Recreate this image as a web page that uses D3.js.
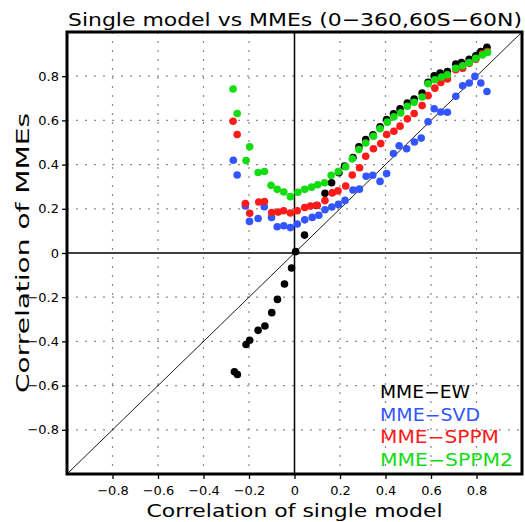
<!DOCTYPE html>
<html>
<head>
<meta charset="utf-8">
<script src="https://cdn.jsdelivr.net/npm/d3@7"></script>
<style>
  html, body { margin: 0; padding: 0; background: #fff; }
  svg text { font-family: 'DejaVu Sans', sans-serif; }
</style>
</head>
<body>
<div id="vis"></div>
<script>
var titleText = 'Single model vs MMEs (0\u2212360,60S\u221260N)',
    labelX = 'Correlation of single model',
    labelY = 'Correlation of MMEs';

var tickValues = [-0.8, -0.6, -0.4, -0.2, 0, 0.2, 0.4, 0.6, 0.8];

var seriesNames = ['MME\u2212EW', 'MME\u2212SVD', 'MME\u2212SPPM', 'MME\u2212SPPM2'];

/* [single model correlation, MME correlation] */
var ewPoints = [
  [-0.264, -0.537], [-0.251, -0.55], [-0.213, -0.414], [-0.197, -0.395],
  [-0.16, -0.35], [-0.13, -0.33], [-0.10, -0.27], [-0.075, -0.21],
  [-0.044, -0.14], [-0.013, -0.068], [0.005, 0.006], [0.044, 0.081],
  [0.097, 0.215], [0.134, 0.27], [0.163, 0.318], [0.195, 0.363],
  [0.22, 0.393], [0.257, 0.432], [0.283, 0.48], [0.313, 0.513],
  [0.345, 0.535], [0.376, 0.571], [0.405, 0.604], [0.435, 0.63],
  [0.464, 0.652], [0.496, 0.679], [0.526, 0.697], [0.561, 0.724],
  [0.587, 0.772], [0.614, 0.802], [0.64, 0.814], [0.672, 0.821],
  [0.709, 0.855], [0.734, 0.862], [0.768, 0.877], [0.797, 0.892],
  [0.819, 0.911], [0.846, 0.931]
];

var svdPoints = [
  [-0.269, 0.42], [-0.252, 0.353], [-0.216, 0.213], [-0.198, 0.143],
  [-0.16, 0.156], [-0.133, 0.209], [-0.101, 0.161], [-0.076, 0.119],
  [-0.047, 0.123], [-0.018, 0.115], [0.012, 0.131], [0.045, 0.15],
  [0.078, 0.161], [0.107, 0.171], [0.134, 0.196], [0.164, 0.208],
  [0.193, 0.22], [0.222, 0.238], [0.257, 0.285], [0.285, 0.289],
  [0.315, 0.347], [0.344, 0.352], [0.376, 0.324], [0.405, 0.36],
  [0.435, 0.45], [0.46, 0.485], [0.493, 0.472], [0.527, 0.502],
  [0.557, 0.52], [0.587, 0.594], [0.614, 0.653], [0.643, 0.638],
  [0.672, 0.637], [0.709, 0.709], [0.739, 0.757], [0.768, 0.769],
  [0.793, 0.799], [0.819, 0.769], [0.846, 0.731]
];

var sppmPoints = [
  [-0.27, 0.596], [-0.252, 0.536], [-0.216, 0.224], [-0.197, 0.18],
  [-0.157, 0.231], [-0.132, 0.233], [-0.1, 0.183], [-0.072, 0.185],
  [-0.048, 0.191], [-0.018, 0.181], [0.012, 0.191], [0.045, 0.206],
  [0.07, 0.213], [0.1, 0.216], [0.134, 0.237], [0.166, 0.272],
  [0.191, 0.281], [0.225, 0.303], [0.254, 0.353], [0.286, 0.386],
  [0.313, 0.438], [0.347, 0.472], [0.379, 0.495], [0.405, 0.536],
  [0.437, 0.551], [0.464, 0.574], [0.496, 0.607], [0.526, 0.631],
  [0.561, 0.667], [0.587, 0.712], [0.617, 0.746], [0.643, 0.772],
  [0.672, 0.787], [0.709, 0.829], [0.739, 0.836], [0.768, 0.859],
  [0.797, 0.877], [0.826, 0.901], [0.848, 0.911]
];

var sppm2Points = [
  [-0.27, 0.742], [-0.252, 0.631], [-0.197, 0.481], [-0.213, 0.418],
  [-0.16, 0.364], [-0.132, 0.369], [-0.103, 0.306], [-0.076, 0.288],
  [-0.047, 0.276], [-0.018, 0.255], [0.015, 0.275], [0.045, 0.288],
  [0.075, 0.298], [0.102, 0.309], [0.132, 0.318], [0.161, 0.352],
  [0.192, 0.368], [0.225, 0.39], [0.254, 0.426], [0.283, 0.468],
  [0.313, 0.498], [0.347, 0.528], [0.376, 0.562], [0.408, 0.592],
  [0.437, 0.616], [0.467, 0.634], [0.496, 0.664], [0.526, 0.682],
  [0.561, 0.706], [0.587, 0.766], [0.617, 0.784], [0.646, 0.796],
  [0.672, 0.806], [0.709, 0.836], [0.739, 0.847], [0.768, 0.862],
  [0.797, 0.881], [0.826, 0.896], [0.848, 0.907]
];

var prefs = {
  width: 525,
  height: 522,
  margins: { top: 32, bottom: 48, left: 67, right: 3 },
  colors: ['#000000', '#3355ff', '#ff1a1a', '#11dd11'],
  dotRadius: 3.8,
  gridColor: '#8a8a8a'
};

var series = [ewPoints, svdPoints, sppmPoints, sppm2Points];

var svg = d3.select('#vis').append('svg')
  .attr('width', prefs.width)
  .attr('height', prefs.height);

var x = d3.scaleLinear()
  .domain([-1, 1])
  .range([prefs.margins.left, prefs.width - prefs.margins.right]);

var y = d3.scaleLinear()
  .domain([-1, 1])
  .range([prefs.height - prefs.margins.bottom, prefs.margins.top]);

function tickLabel(d) {
  if (d === 0) return '0';
  return (d < 0 ? '\u2212' : '') + Math.abs(d).toFixed(1);
}

/* Dotted grid lines, skipping zero which gets a solid line */
var gridValues = tickValues.filter(function(d) { return d !== 0; });

svg.append('g').selectAll('line.vgrid')
  .data(gridValues)
  .enter().append('line')
    .attr('x1', function(d) { return x(d); })
    .attr('x2', function(d) { return x(d); })
    .attr('y1', y(1))
    .attr('y2', y(-1))
    .attr('stroke', prefs.gridColor)
    .attr('stroke-width', 1.2)
    .attr('stroke-dasharray', '2,7');

svg.append('g').selectAll('line.hgrid')
  .data(gridValues)
  .enter().append('line')
    .attr('y1', function(d) { return y(d); })
    .attr('y2', function(d) { return y(d); })
    .attr('x1', x(-1))
    .attr('x2', x(1))
    .attr('stroke', prefs.gridColor)
    .attr('stroke-width', 1.2)
    .attr('stroke-dasharray', '2,7');

/* Zero lines and 1:1 diagonal */
svg.append('line')
  .attr('x1', x(0)).attr('x2', x(0))
  .attr('y1', y(1)).attr('y2', y(-1))
  .attr('stroke', '#000').attr('stroke-width', 1.5);

svg.append('line')
  .attr('x1', x(-1)).attr('x2', x(1))
  .attr('y1', y(0)).attr('y2', y(0))
  .attr('stroke', '#000').attr('stroke-width', 1.5);

svg.append('line')
  .attr('x1', x(-1)).attr('y1', y(-1))
  .attr('x2', x(1)).attr('y2', y(1))
  .attr('stroke', '#000').attr('stroke-width', 0.9);

/* Axes: outward ticks, no domain path (frame drawn separately) */
var xAxis = d3.axisBottom(x)
  .tickValues(tickValues)
  .tickSize(5)
  .tickFormat(tickLabel);

var yAxis = d3.axisLeft(y)
  .tickValues(tickValues)
  .tickSize(5)
  .tickFormat(tickLabel);

svg.append('g')
  .attr('transform', 'translate(0,' + y(-1) + ')')
  .call(xAxis)
  .call(function(g) { g.select('.domain').remove(); })
  .selectAll('text')
    .attr('font-family', "'Liberation Sans', sans-serif")
    .attr('font-size', 13)
    .attr('fill', '#000')
    .attr('dy', '1.0em');

svg.append('g')
  .attr('transform', 'translate(' + x(-1) + ',0)')
  .call(yAxis)
  .call(function(g) { g.select('.domain').remove(); })
  .selectAll('text')
    .attr('font-family', "'Liberation Sans', sans-serif")
    .attr('font-size', 13)
    .attr('fill', '#000');

svg.selectAll('.tick line').attr('stroke', '#000').attr('stroke-width', 1.3);

/* Points, in drawing order EW, SVD, SPPM, SPPM2 */
series.forEach(function(points, i) {
  svg.append('g').selectAll('circle')
    .data(points)
    .enter().append('circle')
      .attr('cx', function(d) { return x(d[0]); })
      .attr('cy', function(d) { return y(d[1]); })
      .attr('r', prefs.dotRadius)
      .attr('fill', prefs.colors[i]);
});

/* Frame */
svg.append('rect')
  .attr('x', x(-1))
  .attr('y', y(1))
  .attr('width', x(1) - x(-1))
  .attr('height', y(-1) - y(1))
  .attr('fill', 'none')
  .attr('stroke', '#000')
  .attr('stroke-width', 3);

/* Legend */
var legendWidths = [90, 100, 119, 133];

svg.append('g').selectAll('text')
  .data(seriesNames)
  .enter().append('text')
    .attr('x', 380)
    .attr('y', function(d, i) { return 398 + i * 22.5; })
    .attr('font-size', 17)
    .attr('textLength', function(d, i) { return legendWidths[i]; })
    .attr('lengthAdjust', 'spacingAndGlyphs')
    .attr('fill', function(d, i) { return prefs.colors[i]; })
    .text(function(d) { return d; });

/* Titles */
svg.append('text')
  .attr('x', 68)
  .attr('y', 26)
  .attr('font-size', 18)
  .attr('textLength', 454)
  .attr('lengthAdjust', 'spacingAndGlyphs')
  .text(titleText);

svg.append('text')
  .attr('x', x(0))
  .attr('y', 517)
  .attr('text-anchor', 'middle')
  .attr('font-size', 18)
  .attr('textLength', 296)
  .attr('lengthAdjust', 'spacingAndGlyphs')
  .text(labelX);

svg.append('text')
  .attr('transform', 'translate(29,' + y(0) + ') rotate(-90)')
  .attr('text-anchor', 'middle')
  .attr('font-size', 17)
  .attr('textLength', 280)
  .attr('lengthAdjust', 'spacingAndGlyphs')
  .text(labelY);
</script>
</body>
</html>
